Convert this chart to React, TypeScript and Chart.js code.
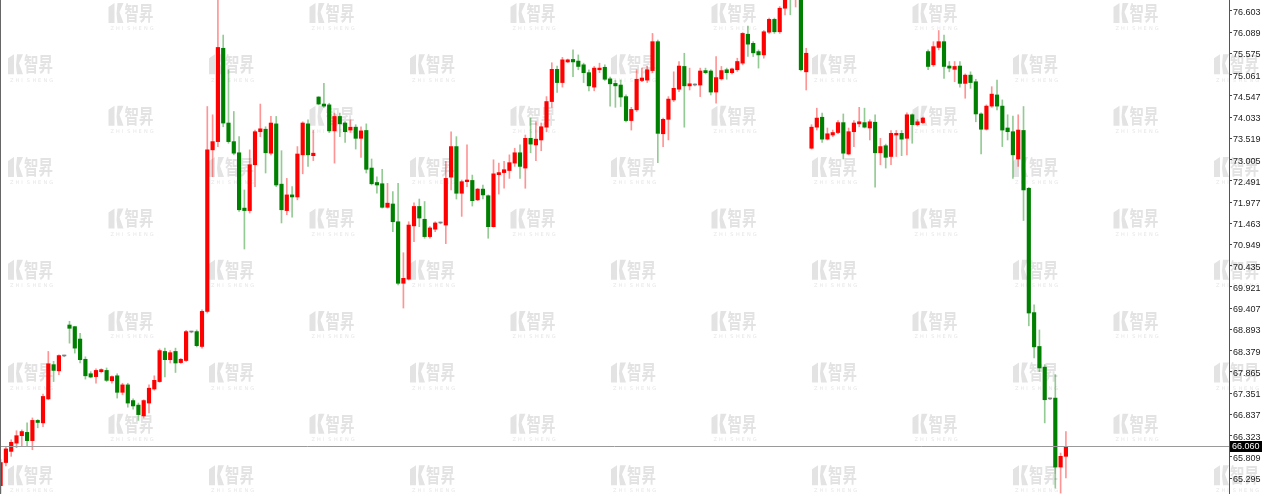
import { useEffect, useRef } from "react";
import { Chart, registerables } from "chart.js";

Chart.register(...registerables);

const opens = [
  65.11, 65.67, 65.94, 66.14, 66.32, 66.40, 66.20, 66.69, 66.63, 67.21,
  68.04, 67.89, 68.25, 69.00, 68.96, 68.66, 68.17, 67.82, 67.75, 67.87,
  67.90, 67.65, 67.77, 67.37, 67.55, 67.17, 67.06, 66.80, 67.11, 67.45,
  67.63, 68.36, 68.16, 68.36, 68.09, 68.14, 68.83, 68.84, 68.48, 69.33,
  73.24, 73.44, 75.70, 73.89, 73.44, 73.17, 71.83, 71.77, 72.88, 73.68,
  73.74, 73.16, 73.87, 72.41, 71.77, 72.15, 72.10, 73.12, 73.87, 73.10,
  74.52, 74.35, 74.33, 73.70, 74.05, 73.89, 73.72, 73.79, 73.52, 73.71,
  72.80, 72.45, 72.42, 71.85, 71.93, 71.50, 70.01, 70.11, 71.40, 71.87,
  71.56, 71.14, 71.32, 71.47, 71.42, 72.58, 73.32, 72.19, 72.47, 72.50,
  72.03, 72.29, 72.13, 71.38, 72.64, 72.69, 72.74, 72.92, 73.17, 72.80,
  73.52, 73.36, 73.48, 73.79, 74.41, 75.19, 74.87, 75.37, 75.43, 75.39,
  75.30, 75.11, 74.76, 75.18, 75.24, 74.96, 74.85, 74.81, 74.53, 73.95,
  74.21, 74.92, 74.93, 75.16, 75.86, 73.63, 73.98, 74.45, 74.71, 75.26,
  74.79, 74.81, 74.81, 75.16, 75.15, 74.64, 74.96, 75.18, 75.11, 75.18,
  75.34, 76.04, 75.82, 75.62, 75.54, 76.09, 76.40, 76.10, 76.67, 77.05,
  76.95, 77.10, 75.13, 73.28, 73.79, 74.03, 73.50, 73.60, 73.66, 73.90,
  73.14, 73.68, 73.87, 73.90, 73.77, 73.91, 73.17, 73.34, 73.08, 73.60,
  73.64, 73.52, 74.09, 73.85, 73.90, 75.62, 75.30, 75.72, 75.86, 75.27,
  75.19, 75.27, 74.85, 75.05, 74.89, 74.11, 73.74, 74.30, 74.57, 74.30,
  73.77, 73.68, 73.02, 73.71, 72.31, 69.30, 68.48, 67.98, 67.21, 67.23,
  65.56, 65.82,
];

const highs = [
  65.74, 66.05, 66.22, 66.44, 66.46, 66.63, 66.75, 66.71, 67.33, 68.36,
  68.12, 68.28, 68.27, 69.09, 68.97, 68.80, 68.23, 67.87, 67.94, 67.94,
  67.96, 67.77, 67.82, 67.59, 67.59, 67.21, 67.11, 67.19, 67.55, 67.77,
  68.42, 68.44, 68.38, 68.44, 68.19, 68.87, 68.85, 68.88, 69.37, 74.29,
  74.09, 77.00, 76.02, 75.18, 74.17, 73.56, 72.27, 73.24, 73.72, 74.35,
  73.80, 74.05, 74.05, 73.22, 72.55, 72.35, 73.32, 73.92, 73.97, 73.71,
  74.53, 74.85, 74.37, 74.13, 74.13, 73.92, 73.97, 73.85, 73.80, 73.87,
  73.02, 72.59, 72.77, 72.43, 72.23, 72.43, 70.75, 71.50, 71.96, 72.05,
  71.99, 71.38, 71.50, 71.49, 72.96, 73.68, 73.56, 72.51, 73.36, 72.63,
  72.31, 72.39, 72.15, 73.00, 72.92, 72.96, 73.12, 73.28, 73.36, 73.60,
  74.01, 73.92, 73.89, 74.53, 75.35, 75.27, 75.48, 75.44, 75.66, 75.54,
  75.34, 75.18, 75.26, 75.34, 75.30, 75.00, 74.93, 74.93, 74.57, 74.27,
  75.18, 75.22, 75.26, 76.06, 75.90, 74.01, 74.53, 75.13, 75.38, 75.58,
  75.22, 74.84, 75.22, 75.22, 75.18, 75.50, 75.26, 75.22, 75.22, 75.46,
  76.08, 76.24, 75.86, 75.66, 76.13, 76.43, 76.43, 76.71, 77.00, 77.10,
  77.15, 77.20, 75.70, 73.85, 74.25, 74.13, 73.77, 73.72, 73.95, 74.11,
  73.77, 73.95, 74.27, 74.25, 73.97, 74.09, 73.52, 73.38, 73.71, 73.71,
  73.71, 74.14, 74.11, 73.97, 74.03, 75.66, 75.86, 76.13, 76.02, 75.38,
  75.38, 75.38, 75.08, 75.13, 74.95, 74.14, 74.33, 74.77, 74.93, 74.45,
  74.09, 74.06, 74.09, 74.29, 72.33, 69.49, 68.88, 68.04, 67.23, 67.80,
  65.90, 66.42,
];

const lows = [
  64.92, 65.59, 65.82, 66.03, 66.06, 66.06, 65.98, 66.51, 66.54, 67.19,
  67.63, 67.80, 68.23, 68.56, 68.32, 68.08, 67.69, 67.72, 67.59, 67.84,
  67.63, 67.59, 67.23, 67.31, 67.01, 66.96, 66.69, 66.75, 66.87, 67.42,
  67.61, 67.74, 68.08, 67.85, 68.07, 68.12, 68.81, 68.47, 68.44, 69.29,
  72.59, 73.32, 73.80, 73.40, 73.12, 71.75, 70.84, 71.71, 72.35, 73.56,
  72.68, 73.12, 72.35, 71.47, 71.67, 71.61, 72.03, 72.66, 72.84, 72.98,
  74.33, 74.27, 73.66, 72.92, 73.56, 73.42, 73.66, 73.26, 73.06, 72.68,
  72.39, 72.19, 71.83, 71.83, 71.26, 69.97, 69.41, 70.09, 71.02, 71.38,
  71.10, 71.10, 71.26, 71.45, 70.97, 72.27, 72.05, 71.63, 72.35, 71.88,
  72.01, 72.05, 71.10, 71.37, 72.17, 72.31, 72.55, 72.84, 72.55, 72.31,
  73.17, 72.98, 73.22, 73.68, 74.27, 74.63, 74.76, 75.35, 75.01, 75.18,
  74.87, 74.67, 74.67, 75.11, 74.92, 74.30, 74.27, 74.29, 73.92, 73.72,
  74.17, 74.89, 74.87, 75.11, 72.93, 73.32, 73.48, 74.41, 74.65, 73.79,
  74.69, 74.79, 74.53, 75.08, 74.57, 74.37, 74.93, 74.95, 75.08, 75.14,
  75.30, 75.50, 75.50, 75.22, 75.46, 76.06, 76.06, 76.06, 76.51, 76.51,
  76.70, 75.15, 74.69, 73.26, 73.72, 73.42, 73.48, 73.56, 73.63, 73.02,
  73.12, 73.32, 73.80, 73.77, 73.48, 72.34, 72.88, 72.80, 72.88, 73.08,
  73.10, 73.12, 73.40, 73.82, 73.88, 75.18, 75.26, 75.66, 74.97, 75.13,
  74.89, 74.76, 74.49, 74.73, 73.92, 73.14, 73.72, 74.27, 74.21, 73.32,
  73.48, 72.55, 72.84, 71.53, 68.98, 68.20, 67.87, 66.63, 67.19, 65.05,
  64.93, 65.30,
];

const closes = [
  65.67, 66.00, 66.16, 66.32, 66.42, 66.20, 66.69, 66.64, 67.27, 68.06,
  67.90, 68.26, 68.25, 68.92, 68.44, 68.16, 67.77, 67.74, 67.90, 67.92,
  67.66, 67.75, 67.37, 67.55, 67.11, 67.04, 66.83, 67.17, 67.47, 67.66,
  68.38, 68.16, 68.33, 68.08, 68.17, 68.84, 68.83, 68.50, 69.33, 73.24,
  73.44, 75.72, 73.89, 73.44, 73.16, 71.79, 71.77, 72.88, 73.68, 73.75,
  73.17, 73.89, 72.39, 71.79, 72.15, 72.10, 73.14, 73.89, 73.12, 73.16,
  74.35, 74.30, 73.70, 74.05, 73.87, 73.68, 73.79, 73.52, 73.70, 72.77,
  72.42, 72.39, 71.85, 71.95, 71.50, 70.01, 70.13, 71.42, 71.87, 71.59,
  71.14, 71.35, 71.47, 71.47, 72.55, 73.32, 72.19, 72.47, 72.51, 72.01,
  72.29, 72.15, 71.38, 72.66, 72.69, 72.76, 72.93, 73.17, 72.84, 73.52,
  73.38, 73.50, 73.80, 74.41, 75.19, 74.87, 75.42, 75.42, 75.37, 75.26,
  75.11, 74.79, 75.22, 75.22, 74.95, 74.84, 74.79, 74.52, 73.95, 74.22,
  74.95, 74.98, 75.18, 75.86, 73.64, 73.98, 74.47, 74.73, 75.27, 74.79,
  74.84, 74.81, 75.15, 75.11, 74.64, 74.99, 75.16, 75.11, 75.20, 75.38,
  76.06, 75.80, 75.59, 75.54, 76.10, 76.40, 76.10, 76.67, 76.92, 76.95,
  77.10, 75.18, 75.58, 73.79, 74.01, 73.50, 73.63, 73.66, 73.90, 73.16,
  73.68, 73.89, 73.92, 73.79, 73.92, 73.17, 73.32, 73.06, 73.64, 73.64,
  73.50, 74.09, 73.85, 73.92, 74.01, 75.26, 75.74, 75.86, 75.26, 75.22,
  75.26, 74.85, 75.05, 74.87, 74.11, 73.74, 74.30, 74.59, 74.30, 73.72,
  73.68, 73.12, 73.72, 72.27, 69.29, 68.47, 67.96, 67.19, 67.21, 65.56,
  65.82, 66.06,
];

const yTicks = [
  65.295, 65.809, 66.323, 66.837, 67.351, 67.865, 68.379, 68.893, 69.407,
  69.921, 70.435, 70.949, 71.463, 71.977, 72.491, 73.005, 73.519, 74.033,
  74.547, 75.061, 75.575, 76.089, 76.603,
];

const lastPrice = 66.06;
const yMin = 64.908;
const yMax = 76.869;
const xMin = -0.113;
const xMax = 231.77;

function drawLogo(ctx: CanvasRenderingContext2D, x: number, y: number) {
  ctx.save();
  ctx.fillStyle = "#e3e3e3";
  ctx.beginPath();
  ctx.moveTo(x, y + 4);
  ctx.lineTo(x + 6, y);
  ctx.lineTo(x + 6, y + 20);
  ctx.lineTo(x, y + 20);
  ctx.closePath();
  ctx.fill();
  ctx.beginPath();
  ctx.moveTo(x + 9, y);
  ctx.lineTo(x + 15, y);
  ctx.lineTo(x + 11, y + 9);
  ctx.lineTo(x + 15, y + 20);
  ctx.lineTo(x + 9, y + 20);
  ctx.lineTo(x + 8, y + 11);
  ctx.closePath();
  ctx.fill();
  ctx.translate(x + 16, y + 18);
  ctx.scale(0.72, 1);
  ctx.font = "bold 20px 'Noto Sans CJK SC'";
  ctx.textBaseline = "alphabetic";
  ctx.fillText("智昇", 0, 0);
  ctx.restore();
  ctx.save();
  ctx.fillStyle = "#e6e6e6";
  ctx.font = "5px 'DejaVu Sans'";
  ctx.textBaseline = "middle";
  const letters = "ZHISHENG";
  for (let k = 0; k < letters.length; k++) {
    ctx.fillText(letters[k], x + 2 + k * 5.6, y + 26);
  }
  ctx.restore();
}

const decorPlugin = {
  id: "decor",
  beforeDraw(chart: any) {
    const ctx = chart.ctx as CanvasRenderingContext2D;
    ctx.save();
    ctx.fillStyle = "#ffffff";
    ctx.fillRect(0, 0, chart.width, chart.height);
    ctx.restore();
    for (let r = 0; r < 10; r++) {
      const top = 3 + r * 51.35;
      const start = r % 2 === 0 ? 108.5 : 8;
      for (let c = 0; c < 7; c++) {
        drawLogo(ctx, start + c * 201, top);
      }
    }
  },
  afterDatasetsDraw(chart: any) {
    const ctx = chart.ctx as CanvasRenderingContext2D;
    const area = chart.chartArea;
    const y = Math.round(chart.scales.y.getPixelForValue(lastPrice)) + 0.5;
    ctx.save();
    ctx.strokeStyle = "#9a9a9a";
    ctx.lineWidth = 1;
    ctx.beginPath();
    ctx.moveTo(area.left, y);
    ctx.lineTo(area.right, y);
    ctx.stroke();
    ctx.strokeStyle = "#666666";
    ctx.beginPath();
    ctx.moveTo(0.5, 0);
    ctx.lineTo(0.5, chart.height);
    ctx.stroke();
    ctx.restore();
  },
  afterDraw(chart: any) {
    const ctx = chart.ctx as CanvasRenderingContext2D;
    const area = chart.chartArea;
    const y = chart.scales.y.getPixelForValue(lastPrice);
    ctx.save();
    ctx.fillStyle = "#000000";
    ctx.fillRect(area.right + 1, Math.round(y) - 5, 32, 11);
    ctx.fillStyle = "#ffffff";
    ctx.font = "9px 'Liberation Sans'";
    ctx.textBaseline = "middle";
    ctx.fillText(lastPrice.toFixed(3), area.right + 3, Math.round(y) + 1);
    ctx.restore();
  },
};

export default function App() {
  const ref = useRef<HTMLCanvasElement>(null);

  useEffect(() => {
    if (!ref.current) return;
    const idx = opens.map((_, i) => i);
    const dir = idx.map((i) =>
      closes[i] > opens[i] ? 1 : closes[i] < opens[i] ? -1 : 0
    );
    const bodyColors = dir.map((d) =>
      d > 0 ? "#ff0000" : d < 0 ? "#008000" : "#808080"
    );
    const wickColors = dir.map((d) =>
      d > 0
        ? "rgba(255,0,0,0.42)"
        : d < 0
        ? "rgba(0,128,0,0.42)"
        : "rgba(128,128,128,0.6)"
    );

    const chart = new Chart(ref.current, {
      type: "bar",
      data: {
        datasets: [
          {
            label: "body",
            data: idx.map((i) => ({ x: i, y: [opens[i], closes[i]] })) as any,
            backgroundColor: bodyColors,
            barThickness: 3.5,
            minBarLength: 1,
            grouped: false,
            order: 0,
          } as any,
          {
            label: "wick",
            data: idx.map((i) => ({ x: i, y: [lows[i], highs[i]] })) as any,
            backgroundColor: wickColors,
            barThickness: 1,
            grouped: false,
            order: 1,
          } as any,
        ],
      },
      options: {
        animation: false,
        responsive: true,
        maintainAspectRatio: false,
        layout: { padding: 0 },
        plugins: {
          legend: { display: false },
          tooltip: { enabled: false },
        },
        scales: {
          x: {
            type: "linear",
            min: xMin,
            max: xMax,
            offset: false,
            display: false,
          },
          y: {
            position: "right",
            min: yMin,
            max: yMax,
            afterBuildTicks: (s: any) => {
              s.ticks = yTicks.map((v) => ({ value: v }));
            },
            afterFit: (s: any) => {
              s.width = 38;
              s.paddingTop = 0;
              s.paddingBottom = 0;
            },
            ticks: {
              autoSkip: false,
              padding: 1,
              labelOffset: 1.5,
              color: "#222222",
              font: { family: "'Liberation Sans'", size: 9 },
              callback: (v: any) => Number(v).toFixed(3),
            },
            grid: {
              drawOnChartArea: false,
              drawTicks: true,
              tickLength: 3,
              color: "#444444",
            },
            border: { display: true, color: "#555555", width: 1 },
          },
        },
      } as any,
      plugins: [decorPlugin],
    });
    return () => chart.destroy();
  }, []);

  return (
    <div
      style={{
        position: "absolute",
        left: 0,
        top: 0,
        width: 1267,
        height: 494,
        background: "#fff",
      }}
    >
      <canvas ref={ref} />
    </div>
  );
}
